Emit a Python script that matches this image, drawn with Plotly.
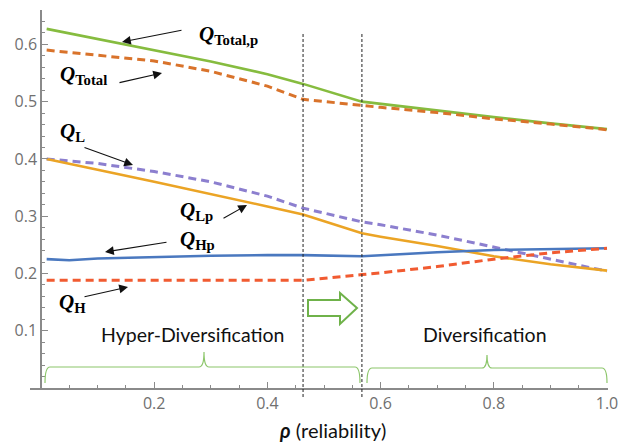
import plotly.graph_objects as go

# ---------------- data ----------------
rho = [0.01, 0.05, 0.1, 0.2, 0.3, 0.4, 0.463, 0.567, 0.6, 0.7, 0.8, 0.9, 1.0]
q_total_p = [0.627, 0.619, 0.610, 0.590, 0.570, 0.548, 0.531, 0.500, 0.496, 0.484, 0.473, 0.462, 0.452]
q_total   = [0.590, 0.586, 0.582, 0.571, 0.553, 0.527, 0.504, 0.493, 0.490, 0.481, 0.470, 0.461, 0.451]
q_l       = [0.400, 0.397, 0.392, 0.378, 0.360, 0.335, 0.314, 0.290, 0.285, 0.267, 0.246, 0.225, 0.204]
q_lp      = [0.400, 0.392, 0.381, 0.360, 0.339, 0.317, 0.303, 0.270, 0.264, 0.248, 0.230, 0.216, 0.205]
q_hp      = [0.225, 0.223, 0.226, 0.229, 0.231, 0.232, 0.232, 0.230, 0.232, 0.237, 0.241, 0.243, 0.244]
q_h       = [0.188, 0.188, 0.188, 0.188, 0.188, 0.188, 0.188, 0.198, 0.201, 0.212, 0.225, 0.236, 0.244]

x_ticks = [0.2, 0.4, 0.6, 0.8, 1.0]
x_tick_labels = ["0.2", "0.4", "0.6", "0.8", "1.0"]
y_ticks = [0.1, 0.2, 0.3, 0.4, 0.5, 0.6]
y_tick_labels = ["0.1", "0.2", "0.3", "0.4", "0.5", "0.6"]
boundaries = [0.463, 0.567]
region_labels = ["Hyper-Diversification", "Diversification"]

# ---------------- geometry helpers (pixel -> axis units) ----------------
W, H = 618, 445
ML, MR, MT, MB = 30, 10, 10, 57
X0PX, X1PX = 41, 607
XSCALE = X1PX - X0PX
YMAX = 0.66
PH = H - MT - MB
Y0PX = MT + PH


def dx(px):
    return (px - X0PX) / XSCALE


def dy(py):
    return (Y0PX - py) / PH * YMAX


def py_paper(py):
    return (Y0PX - py) / PH


fig = go.Figure()

series = [
    (q_total_p, "#86bc3f", "solid", 2.6),
    (q_total, "#d9732b", "8px,5px", 3),
    (q_l, "#8c7fcf", "8px,5px", 3),
    (q_lp, "#eba425", "solid", 2.6),
    (q_hp, "#4a78bf", "solid", 2.6),
    (q_h, "#f15b31", "8px,5px", 3),
]
for vals, col, dash, w in series:
    fig.add_trace(go.Scatter(x=rho, y=vals, mode="lines",
                             line=dict(color=col, width=w, dash=dash),
                             showlegend=False, hoverinfo="skip"))

# vertical dotted boundaries
for b in boundaries:
    fig.add_shape(type="line", xref="x", yref="paper", x0=b, x1=b,
                  y0=py_paper(397), y1=py_paper(32),
                  line=dict(color="#222", width=1, dash="3px,2px"))


# braces
def brace(a, b, m, ly, ey, ty, r=5):
    p = f"M {dx(a)},{dy(ey)} Q {dx(a)},{dy(ly)} {dx(a + r)},{dy(ly)} L {dx(m - r)},{dy(ly)} "
    p += f"Q {dx(m)},{dy(ly)} {dx(m)},{dy(ty)} Q {dx(m)},{dy(ly)} {dx(m + r)},{dy(ly)} "
    p += f"L {dx(b - r)},{dy(ly)} Q {dx(b)},{dy(ly)} {dx(b)},{dy(ey)}"
    return p


for a, b, m, ly, ty in [(45, 360, 204, 367, 352), (367, 607, 487, 368, 355)]:
    fig.add_shape(type="path", xref="x", yref="y", path=brace(a, b, m, ly, 383, ty),
                  line=dict(color="#8cc66a", width=1.2))

# hollow green arrow
arrow_pts = [(308, 300), (340, 300), (340, 293), (357, 308), (340, 324), (340, 316), (308, 316)]
path = "M " + " L ".join(f"{dx(x)},{dy(y)}" for x, y in arrow_pts) + " Z"
fig.add_shape(type="path", xref="x", yref="y", path=path,
              line=dict(color="#6fb24a", width=2), fillcolor="white")

# region labels
for txt, cx in zip(region_labels, [192, 485]):
    fig.add_annotation(x=dx(cx), y=dy(334), xref="x", yref="y", text=txt, showarrow=False,
                       font=dict(family="Lato", size=19.5, color="#111"),
                       xanchor="center", yanchor="middle")

# Q labels
qfont = dict(family="Liberation Serif", size=21, color="#000")
labels = [
    ("Total,p", 197, 35),
    ("Total", 58, 75),
    ("L", 58, 132),
    ("Lp", 178, 211),
    ("Hp", 178, 240),
    ("H", 57, 303),
]
for sub, lx, ly in labels:
    fig.add_annotation(x=dx(lx), y=dy(ly), xref="x", yref="y",
                       text=f"<b><i>Q</i></b><sub><b>{sub}</b></sub>",
                       showarrow=False, font=qfont, xanchor="left", yanchor="middle")

# arrows (tail -> head)
arrows = [
    ((183, 30), (122, 42)),
    ((118, 83), (162, 73)),
    ((83, 147), (133, 165)),
    ((222, 219), (247, 205)),
    ((168, 242), (105, 252)),
    ((83, 297), (128, 287)),
]
for (tx, ty), (hx, hy) in arrows:
    fig.add_annotation(x=dx(hx), y=dy(hy), xref="x", yref="y", text="",
                       showarrow=True, ax=tx - hx, ay=ty - hy,
                       arrowhead=2, arrowsize=1.6, arrowwidth=1.1, arrowcolor="#111")

# axis title
fig.add_annotation(x=dx(332), y=py_paper(430), xref="x", yref="paper",
                   text="<b><i>ρ</i></b> (reliability)", showarrow=False,
                   font=dict(family="Lato", size=20, color="#111"),
                   xanchor="center", yanchor="middle")

axis_col = "#8a8a8a"
tickfont = dict(family="Open Sans", size=16, color="#707070")
fig.update_layout(
    width=W, height=H,
    margin=dict(l=ML, r=MR, t=MT, b=MB, autoexpand=False),
    paper_bgcolor="white", plot_bgcolor="white",
    xaxis=dict(range=[dx(ML), dx(W - MR)], showgrid=False, zeroline=False,
               showline=True, linecolor=axis_col, linewidth=1.5, automargin=False,
               tickvals=x_ticks, ticktext=x_tick_labels, ticklabeloverflow="allow",
               ticks="inside", ticklen=6, tickcolor=axis_col, tickwidth=1.2,
               minor=dict(dtick=0.05, tick0=0, ticks="inside", ticklen=3, tickcolor=axis_col, tickwidth=1),
               tickfont=tickfont, fixedrange=True),
    yaxis=dict(range=[0, YMAX], showgrid=False, zeroline=False,
               anchor="free", position=(X0PX - ML) / (W - ML - MR), automargin=False,
               showline=True, linecolor=axis_col, linewidth=1.5,
               tickvals=y_ticks, ticktext=y_tick_labels, ticklabeloverflow="allow",
               ticks="inside", ticklen=6, tickcolor=axis_col, tickwidth=1.2,
               minor=dict(dtick=0.02, tick0=0, ticks="inside", ticklen=3, tickcolor=axis_col, tickwidth=1),
               tickfont=tickfont, fixedrange=True),
)

fig.write_html("out.html", config={"displayModeBar": False},
               post_script="document.body.style.margin='0';document.body.style.overflow='hidden';")
